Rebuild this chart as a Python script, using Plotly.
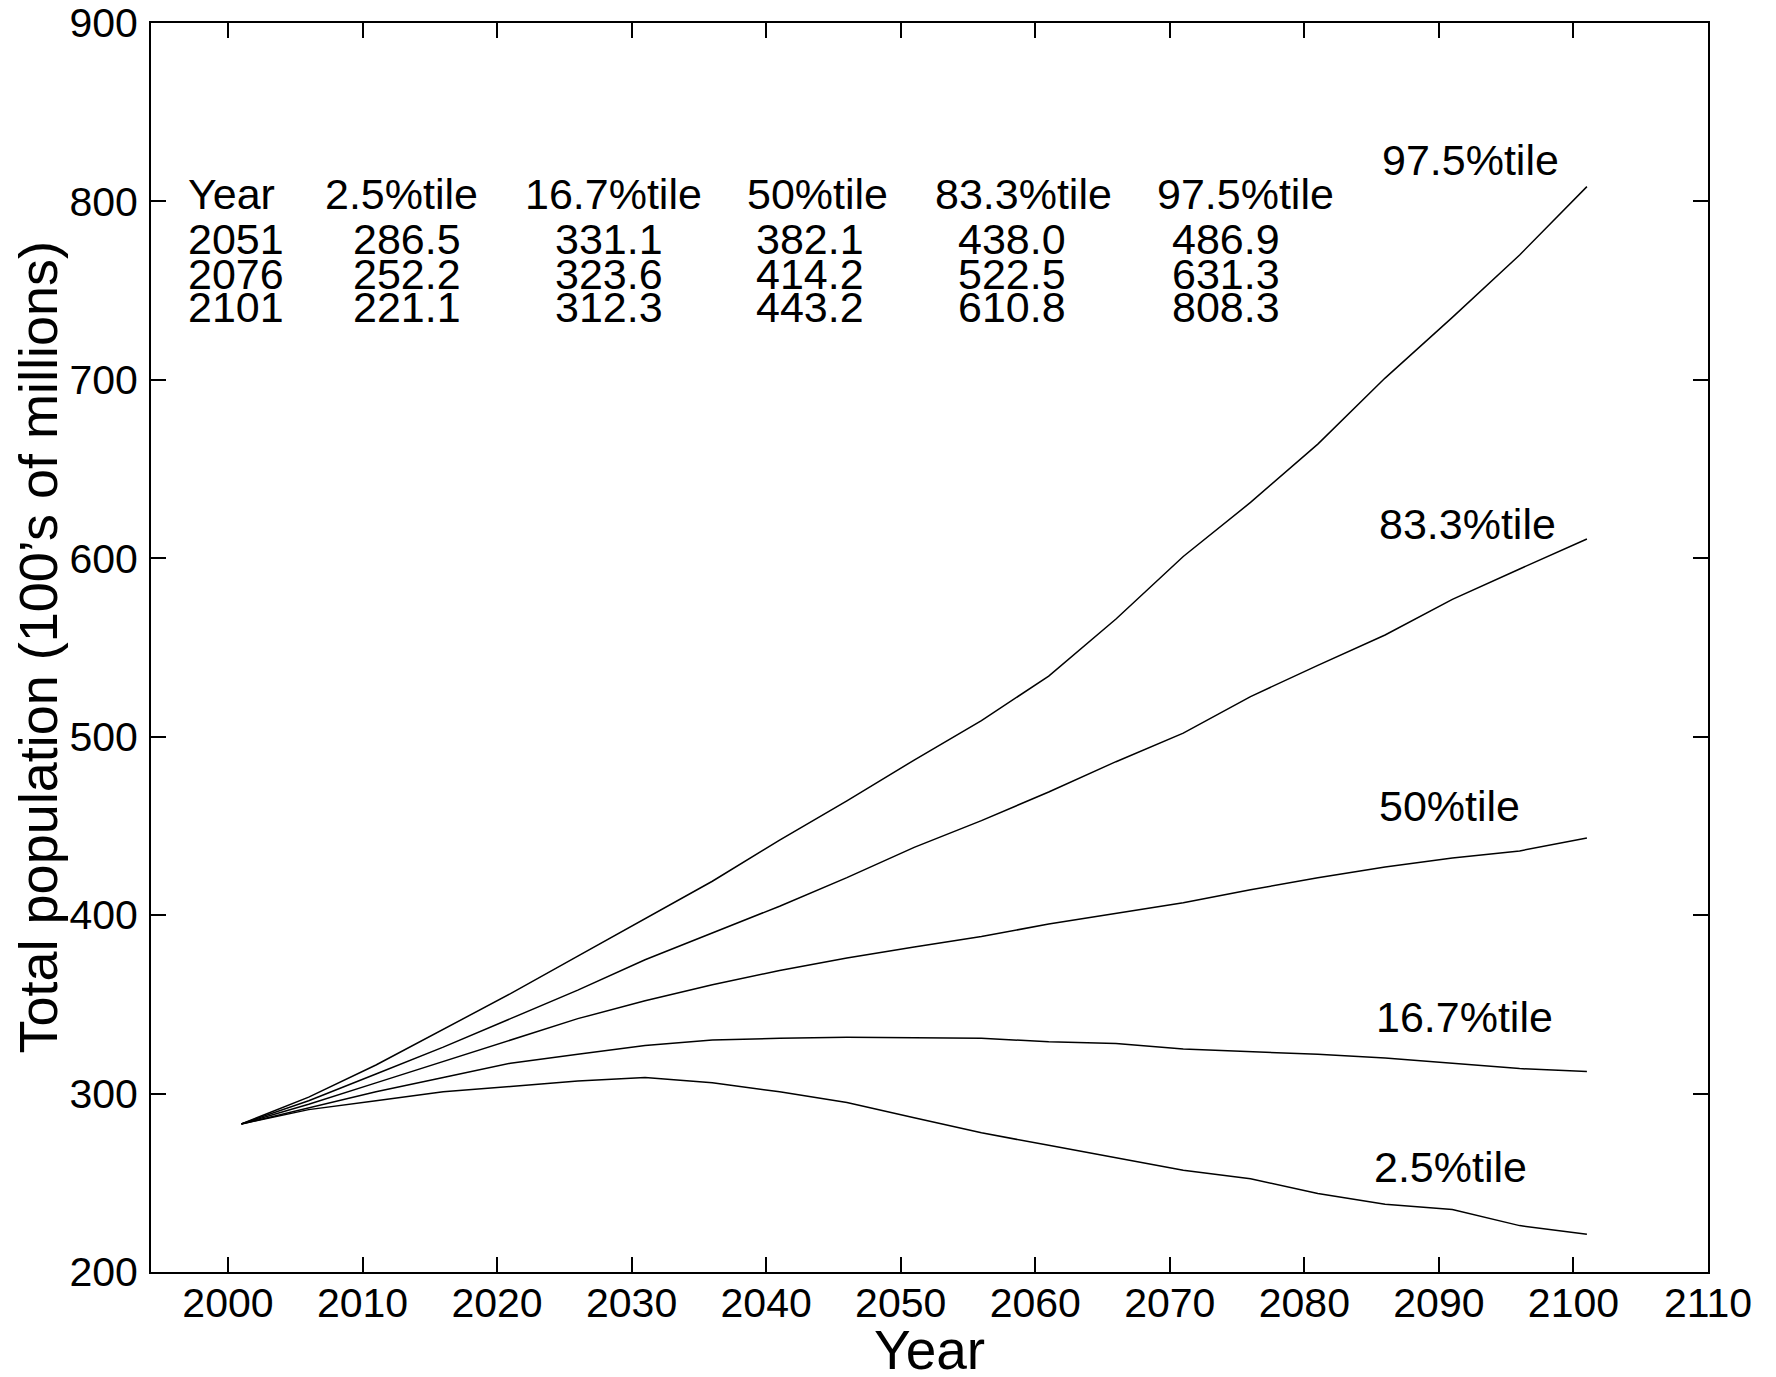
import plotly.graph_objects as go

years = [2001, 2006, 2011, 2016, 2021, 2026, 2031, 2036, 2041, 2046, 2051,
         2056, 2061, 2066, 2071, 2076, 2081, 2086, 2091, 2096, 2101]

p025 = [283, 291, 296, 301, 304, 307, 309, 306, 301, 295, 286.5,
        278, 271, 264, 257, 252.2, 244, 238, 235, 226, 221.1]
p167 = [283, 292, 301, 309, 317, 322, 327, 330, 331, 331.5, 331.1,
        331, 329, 328, 325, 323.6, 322, 320, 317, 314, 312.3]
p500 = [283, 294, 306, 318, 330, 342, 352, 361, 369, 376, 382.1,
        388, 395, 401, 407, 414.2, 421, 427, 432, 436, 443.2]
p833 = [283, 296, 311, 326, 342, 358, 375, 390, 405, 421, 438.0,
        453, 469, 486, 502, 522.5, 540, 557, 577, 594, 610.8]
p975 = [283, 298, 316, 336, 356, 377, 398, 419, 442, 464, 486.9,
        509, 534, 566, 601, 631.3, 664, 701, 735, 770, 808.3]

series_names = ["2.5%tile", "16.7%tile", "50%tile", "83.3%tile", "97.5%tile"]
series_vals = [p025, p167, p500, p833, p975]

table_years = [2051, 2076, 2101]

x_ticks = [2000, 2010, 2020, 2030, 2040, 2050, 2060, 2070, 2080, 2090, 2100, 2110]
y_ticks = [200, 300, 400, 500, 600, 700, 800, 900]

FONT = "Liberation Sans, Arial, sans-serif"
TXT = 43

W, H = 1776, 1377
plot_l, plot_r, plot_t, plot_b = 151, 1708, 23, 1272

fig = go.Figure()
for name, vals in zip(series_names, series_vals):
    fig.add_trace(go.Scatter(x=years, y=vals, mode="lines", name=name,
                             line=dict(color="black", width=1.5),
                             showlegend=False))

annotations = []
# line labels
label_x = 2085.4
label_y = {"97.5%tile": 823, "83.3%tile": 619, "50%tile": 461,
           "16.7%tile": 343, "2.5%tile": 259}
label_dx = {"97.5%tile": 0.2, "83.3%tile": 0.0, "50%tile": 0.0,
            "16.7%tile": -0.2, "2.5%tile": -0.4}
for name in series_names:
    annotations.append(dict(x=label_x + label_dx[name], y=label_y[name], xref="x", yref="y",
                            text=name, showarrow=False, xanchor="left", yanchor="middle",
                            font=dict(family=FONT, size=TXT, color="black")))

# table
header_y = 804
row_y = [778.7, 759.6, 740.6]
header_x = [1996.85, 2007.04, 2021.94, 2038.44, 2052.41, 2068.9]
value_x = [1996.85, 2009.14, 2024.13, 2039.11, 2054.09, 2070.0]
headers = ["Year"] + series_names
for hx, h in zip(header_x, headers):
    annotations.append(dict(x=hx, y=header_y, xref="x", yref="y", text=h,
                            showarrow=False, xanchor="left", yanchor="middle",
                            font=dict(family=FONT, size=TXT, color="black")))
for r, ty in enumerate(table_years):
    idx = years.index(ty)
    cells = [str(ty)] + ["%.1f" % v[idx] for v in series_vals]
    for vx, c in zip(value_x, cells):
        annotations.append(dict(x=vx, y=row_y[r], xref="x", yref="y", text=c,
                                showarrow=False, xanchor="left", yanchor="middle",
                                font=dict(family=FONT, size=TXT, color="black")))

# axis titles
annotations.append(dict(x=0.5, xref="paper",
                        y=-(1350 - plot_b) / (plot_b - plot_t), yref="paper",
                        text="Year", showarrow=False, xanchor="center", yanchor="middle",
                        font=dict(family=FONT, size=55, color="black")))
annotations.append(dict(x=-(plot_l - 37) / (plot_r - plot_l), xref="paper",
                        y=0.5, yref="paper",
                        text="Total population (100\u2019s of millions)",
                        showarrow=False, xanchor="center", yanchor="middle", textangle=-90,
                        font=dict(family=FONT, size=54, color="black")))

axis_common = dict(showline=True, linecolor="black", linewidth=2, mirror="ticks",
                   ticks="inside", ticklen=15, tickwidth=1.5, tickcolor="black",
                   showgrid=False, zeroline=False,
                   tickfont=dict(family=FONT, size=41, color="black"))

fig.update_layout(
    width=W, height=H,
    margin=dict(l=plot_l, r=W - plot_r, t=plot_t, b=H - plot_b, autoexpand=False),
    paper_bgcolor="white", plot_bgcolor="white",
    xaxis=dict(range=[1994.28, 2110], tickvals=x_ticks, ticklabelstandoff=-6, **axis_common),
    yaxis=dict(range=[200, 900], tickvals=y_ticks, ticklabelstandoff=3, **axis_common),
    annotations=annotations,
)

fig.write_html("out.html", config={"displayModeBar": False},
               post_script="document.body.style.margin='0px';document.body.style.overflow='hidden';")
